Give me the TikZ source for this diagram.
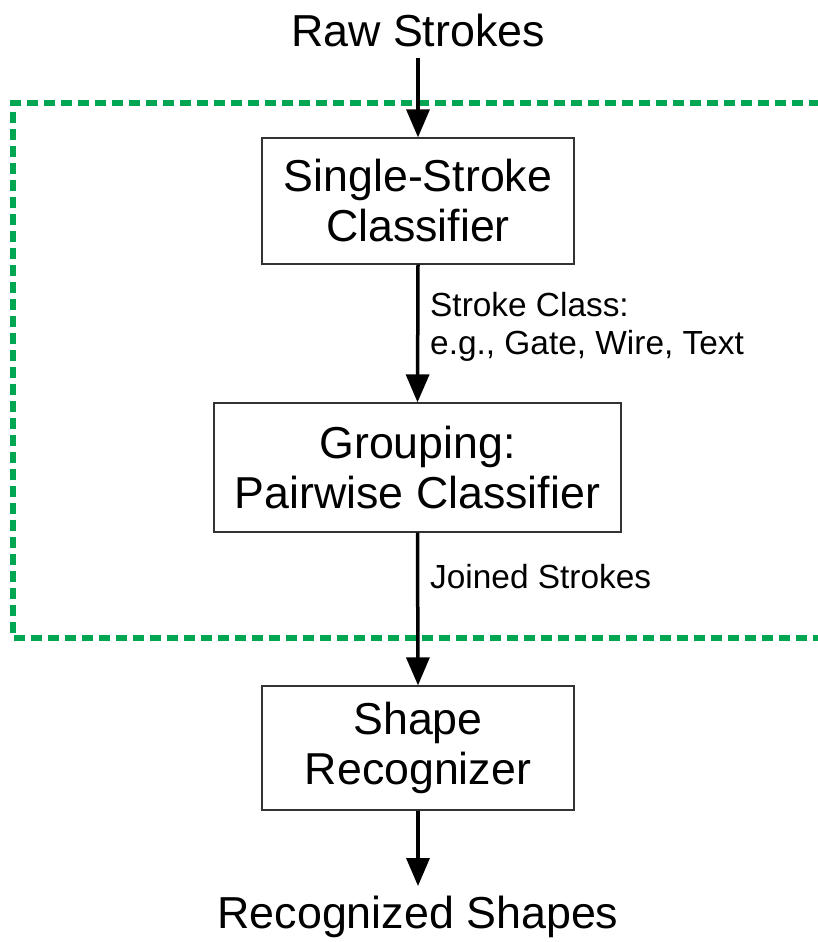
\documentclass[tikz,border=0pt]{standalone}
\usepackage{fontspec}
\setmainfont{Liberation Sans}
\usetikzlibrary{arrows.meta}
\definecolor{dgreen}{RGB}{0,166,81}
\begin{document}
\begin{tikzpicture}[x=1pt,y=-1pt,
  box/.style={draw=black!80,line width=1.3pt,minimum width=#1,align=center,font=\fontsize{44.7}{50}\selectfont,inner sep=0pt},
  flow/.style={line width=3.5pt,-{Triangle[length=28pt,width=23pt]}},
  lbl/.style={anchor=west,font=\fontsize{33.4}{36}\selectfont,inner sep=0pt},
  big/.style={font=\fontsize{44.8}{50}\selectfont,inner sep=0pt}]
\useasboundingbox (0,0) rectangle (817,942);
\draw[dgreen,line width=5.5pt,dash pattern=on 11pt off 6pt] (820,103) -- (13,103) -- (13,638) -- (820,638);
\node[big] (raw) at (418,30) {Raw Strokes};
\node[box=312pt,minimum height=126pt] (ssc) at (418,201) {Single-Stroke\\Classifier};
\node[box=407pt,minimum height=129pt] (grp) at (417.5,467.5) {Grouping:\\Pairwise Classifier};
\node[box=312pt,minimum height=124pt] (shp) at (418,748) {Shape\\Recognizer};
\node[big] (rec) at (418,917) {Recognized Shapes};
\coordinate (top) at (418,58);
\coordinate (bot) at (418,886);
\draw[flow] (top) -- (ssc.north);
\draw[flow] (ssc.south) -- (grp.north);
\draw[flow] (grp.south) -- (shp.north);
\draw[flow] (shp.south) -- (bot);
\node[lbl] (l1) at (430,305) {Stroke Class:};
\node[lbl] (l2) at (430,346) {e.g., Gate, Wire, Text};
\node[lbl] (l3) at (430,577) {Joined Strokes};
\end{tikzpicture}
\end{document}
